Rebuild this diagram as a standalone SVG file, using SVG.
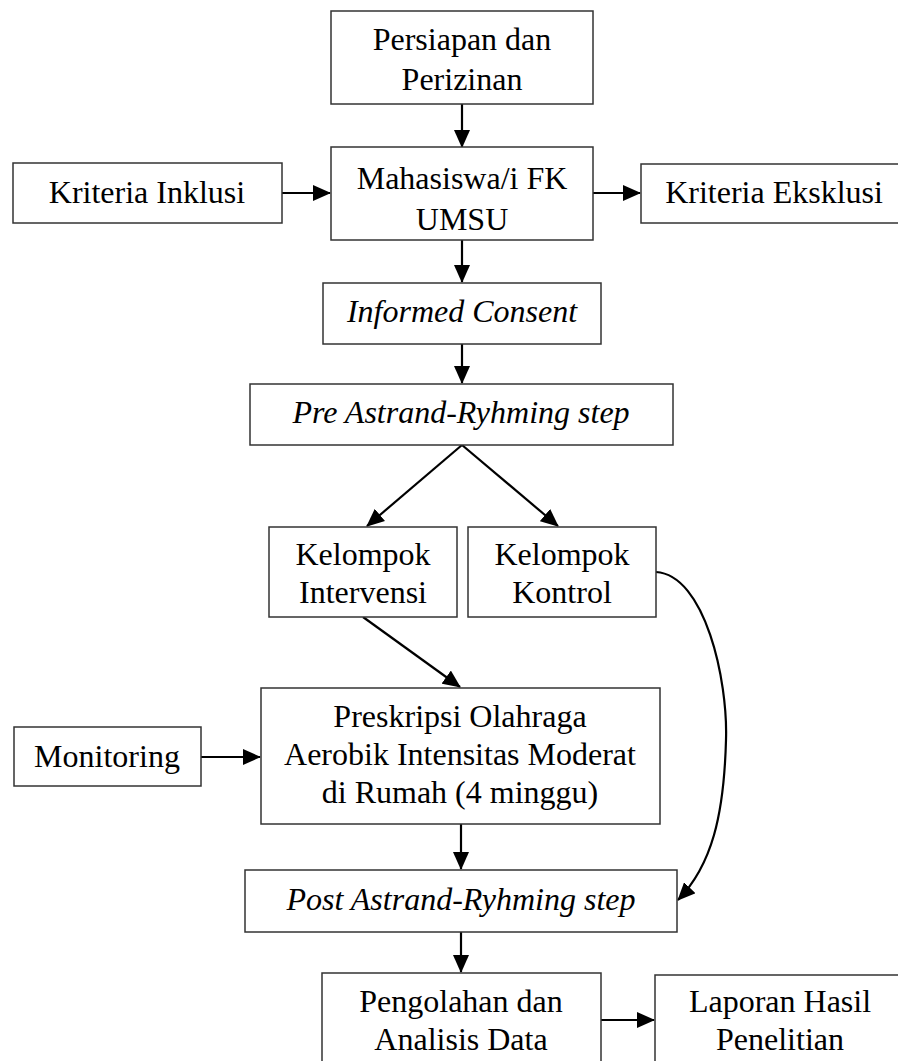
<svg xmlns="http://www.w3.org/2000/svg" width="898" height="1061" viewBox="0 0 898 1061">
<style>
.box{fill:#fff;stroke:#333;stroke-width:1.5}
.t{font-family:"Liberation Serif","Times New Roman",serif;font-size:32px;fill:#000;text-anchor:middle}
.i{font-style:italic}
.c{fill:none;stroke:#000;stroke-width:2.2}
</style>
<defs>
<marker id="ah" markerUnits="userSpaceOnUse" markerWidth="18" markerHeight="16" refX="17" refY="8" orient="auto">
<path d="M0,0 L18,8 L0,16 Z" fill="#000"/>
</marker>
</defs>
<rect width="898" height="1061" fill="#fff"/>
<g id="connectors">
<line class="c" x1="462" y1="104" x2="462" y2="147" marker-end="url(#ah)"/>
<line class="c" x1="282" y1="193" x2="330" y2="193" marker-end="url(#ah)"/>
<line class="c" x1="593" y1="193" x2="640" y2="193" marker-end="url(#ah)"/>
<line class="c" x1="462" y1="240" x2="462" y2="282" marker-end="url(#ah)"/>
<line class="c" x1="462" y1="344" x2="462" y2="383" marker-end="url(#ah)"/>
<line class="c" x1="462" y1="445" x2="367" y2="526" marker-end="url(#ah)"/>
<line class="c" x1="462" y1="445" x2="558" y2="526" marker-end="url(#ah)"/>
<line class="c" x1="363" y1="617" x2="460" y2="687" marker-end="url(#ah)"/>
<line class="c" x1="201" y1="757" x2="260" y2="757" marker-end="url(#ah)"/>
<line class="c" x1="461" y1="824" x2="461" y2="869" marker-end="url(#ah)"/>
<line class="c" x1="461" y1="932" x2="461" y2="972" marker-end="url(#ah)"/>
<line class="c" x1="601" y1="1020" x2="654" y2="1020" marker-end="url(#ah)"/>
<path class="c" d="M656,572 C705,575 728,680 726,740 C724,815 712,865 678,900" marker-end="url(#ah)"/>
</g>
<g id="persiapan">
<rect class="box" x="331" y="11" width="262" height="93"/>
<text class="t" x="462" y="50">Persiapan dan</text>
<text class="t" x="462" y="90">Perizinan</text>
</g>
<g id="mahasiswa">
<rect class="box" x="331" y="147" width="262" height="93"/>
<text class="t" x="462" y="189">Mahasiswa/i FK</text>
<text class="t" x="462" y="230">UMSU</text>
</g>
<g id="inklusi">
<rect class="box" x="13" y="163" width="269" height="60"/>
<text class="t" x="147" y="203">Kriteria Inklusi</text>
</g>
<g id="eksklusi">
<rect class="box" x="641" y="164" width="266" height="59"/>
<text class="t" x="774" y="203">Kriteria Eksklusi</text>
</g>
<g id="informed">
<rect class="box" x="323" y="283" width="278" height="61"/>
<text class="t i" x="462" y="322">Informed Consent</text>
</g>
<g id="pre">
<rect class="box" x="250" y="384" width="423" height="61"/>
<text class="t i" x="461" y="423">Pre Astrand-Ryhming step</text>
</g>
<g id="intervensi">
<rect class="box" x="269" y="527" width="188" height="90"/>
<text class="t" x="363" y="565">Kelompok</text>
<text class="t" x="363" y="603">Intervensi</text>
</g>
<g id="kontrol">
<rect class="box" x="468" y="527" width="188" height="90"/>
<text class="t" x="562" y="565">Kelompok</text>
<text class="t" x="562" y="603">Kontrol</text>
</g>
<g id="preskripsi">
<rect class="box" x="261" y="688" width="399" height="136"/>
<text class="t" x="460" y="727">Preskripsi Olahraga</text>
<text class="t" x="460" y="765">Aerobik Intensitas Moderat</text>
<text class="t" x="460" y="803">di Rumah (4 minggu)</text>
</g>
<g id="monitoring">
<rect class="box" x="14" y="727" width="187" height="59"/>
<text class="t" x="107" y="767">Monitoring</text>
</g>
<g id="post">
<rect class="box" x="245" y="870" width="432" height="62"/>
<text class="t i" x="461" y="910">Post Astrand-Ryhming step</text>
</g>
<g id="pengolahan">
<rect class="box" x="322" y="973" width="279" height="100"/>
<text class="t" x="461" y="1012">Pengolahan dan</text>
<text class="t" x="461" y="1050">Analisis Data</text>
</g>
<g id="laporan">
<rect class="box" x="655" y="975" width="250" height="100"/>
<text class="t" x="780" y="1012">Laporan Hasil</text>
<text class="t" x="780" y="1050">Penelitian</text>
</g>
</svg>
